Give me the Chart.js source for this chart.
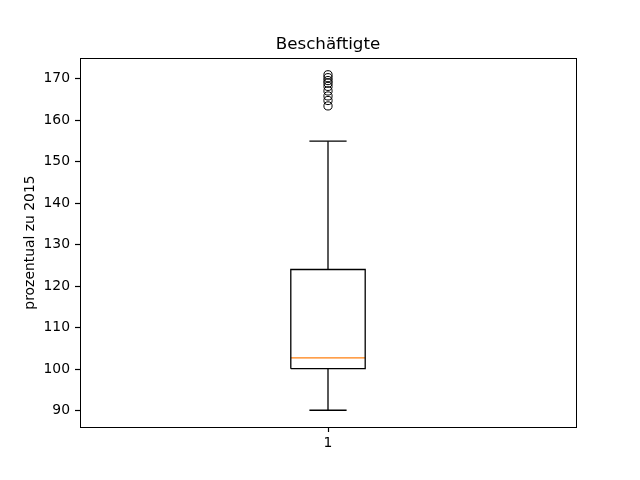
<!DOCTYPE html>
<html>
<head>
<meta charset="utf-8">
<script src="https://cdn.jsdelivr.net/npm/chart.js@4/dist/chart.umd.min.js"></script>
<style>html,body{margin:0;padding:0;background:#fff;}canvas{display:block;}</style>
</head>
<body>
<canvas id="c" width="640" height="480"></canvas>
<script>
// ---- data ----
const categories = ['1'];
const categoryPositions = [1];
const q1 = [100.1];
const median = [102.7];
const q3 = [124.0];
const whiskerLow = [90.1];
const whiskerHigh = [154.9];
const outliers = [[170.9, 170.2, 169.5, 168.9, 168.1, 167.0, 165.8, 164.7, 163.4]];
const yTicks = [90, 100, 110, 120, 130, 140, 150, 160, 170];
const titleText = 'Beschäftigte';
const yLabel = 'prozentual zu 2015';

const BOX_W = 0.15, CAP_W = 0.075;
const datasets = [];
categoryPositions.forEach((p, i) => {
  const h = BOX_W / 2, c = CAP_W / 2;
  const line = (pts, color) => ({
    type: 'scatter', showLine: true, data: pts, borderColor: color || '#000',
    borderWidth: 1.3, pointRadius: 0, tension: 0, fill: false
  });
  datasets.push(line([{x:p-h,y:q1[i]},{x:p+h,y:q1[i]},{x:p+h,y:q3[i]},{x:p-h,y:q3[i]},{x:p-h,y:q1[i]}]));
  datasets.push(line([{x:p,y:q1[i]},{x:p,y:whiskerLow[i]}]));
  datasets.push(line([{x:p,y:q3[i]},{x:p,y:whiskerHigh[i]}]));
  datasets.push(line([{x:p-c,y:whiskerLow[i]},{x:p+c,y:whiskerLow[i]}]));
  datasets.push(line([{x:p-c,y:whiskerHigh[i]},{x:p+c,y:whiskerHigh[i]}]));
  datasets.push(line([{x:p-h,y:median[i]},{x:p+h,y:median[i]}], '#ff7f0e'));
  datasets.push({
    type: 'scatter', data: outliers[i].map(v => ({x:p, y:v})),
    pointStyle: 'circle', pointRadius: 4.1, borderColor: '#000', borderWidth: 1,
    backgroundColor: 'rgba(0,0,0,0)', showLine: false
  });
});

const allY = [...whiskerLow, ...whiskerHigh, ...outliers.flat()];
const yMinD = Math.min(...allY), yMaxD = Math.max(...allY);
const yMargin = (yMaxD - yMinD) * 0.05;

const font = 'DejaVu Sans';
const frame = {
  id: 'frame',
  afterDraw(chart) {
    const {ctx, chartArea: a} = chart;
    ctx.save();
    ctx.strokeStyle = '#000';
    ctx.lineWidth = 1;
    ctx.strokeRect(Math.round(a.left) + 0.5, Math.round(a.top) + 0.5, Math.round(a.right - a.left), Math.round(a.bottom - a.top));
    ctx.fillStyle = '#000';
    ctx.font = '16.7px "' + font + '"';
    ctx.textAlign = 'center';
    ctx.textBaseline = 'alphabetic';
    ctx.fillText(titleText, (a.left + a.right) / 2, a.top - 9.5);
    ctx.restore();
  }
};

new Chart(document.getElementById('c'), {
  type: 'scatter',
  data: { datasets },
  options: {
    responsive: false,
    animation: false,
    devicePixelRatio: 1,
    layout: { padding: { left: 0, right: 64, top: 58, bottom: 0 } },
    plugins: {
      legend: { display: false },
      tooltip: { enabled: false },
      title: { display: false }
    },
    scales: {
      x: {
        type: 'linear', min: categoryPositions[0] - 0.5, max: categoryPositions[categoryPositions.length - 1] + 0.5,
        afterBuildTicks: s => { s.ticks = categoryPositions.map(v => ({ value: v })); },
        afterFit: s => { s.height = 53; },
        grid: { display: true, drawOnChartArea: false, drawTicks: true, tickLength: 5, color: '#000', tickWidth: 1.2 },
        border: { display: true, color: '#000', width: 1 },
        ticks: {
          color: '#000', font: { family: font, size: 13.9 }, padding: 3,
          callback: v => categories[categoryPositions.indexOf(v)] ?? ''
        }
      },
      y: {
        type: 'linear', min: yMinD - yMargin, max: yMaxD + yMargin,
        afterBuildTicks: s => { s.ticks = yTicks.map(v => ({ value: v })); },
        afterFit: s => { s.width = 80; },
        grid: { display: true, drawOnChartArea: false, drawTicks: true, tickLength: 5, color: '#000', tickWidth: 1.2 },
        border: { display: true, color: '#000', width: 1 },
        ticks: { color: '#000', font: { family: font, size: 13.9 }, padding: 5 },
        title: {
          display: true, text: yLabel, color: '#000',
          font: { family: font, size: 13.9 }, padding: { top: 22, bottom: 0 }
        }
      }
    }
  },
  plugins: [frame]
});
</script>
</body>
</html>
